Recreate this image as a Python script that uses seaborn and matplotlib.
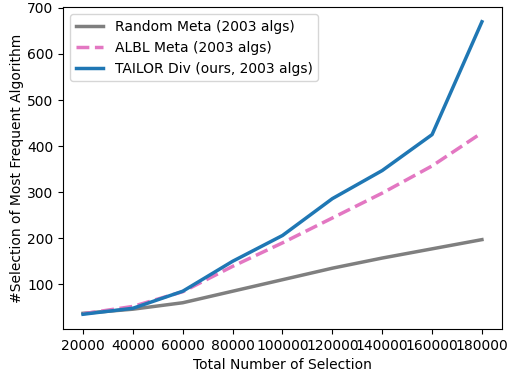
import matplotlib
matplotlib.use("Agg")
import matplotlib.pyplot as plt
import seaborn as sns
import pandas as pd

x_vals = [20000, 40000, 60000, 80000, 100000, 120000, 140000, 160000, 180000]
random_meta = [37, 46, 60, 85, 110, 135, 157, 177, 197]
albl_meta = [36, 52, 84, 139, 190, 244, 298, 357, 429]
tailor_div = [35, 48, 85, 150, 206, 286, 347, 425, 670]

labels = ["Random Meta (2003 algs)", "ALBL Meta (2003 algs)", "TAILOR Div (ours, 2003 algs)"]
colors = ["#7f7f7f", "#e377c2", "#1f77b4"]
styles = ["-", "--", "-"]

plt.rcParams['font.family'] = ['DejaVu Sans']

fig = plt.figure(figsize=(5.09, 3.75), dpi=100)
ax = fig.add_axes([0.124, 0.123, 0.862, 0.858])

for series, lab, col, ls in zip([random_meta, albl_meta, tailor_div], labels, colors, styles):
    df = pd.DataFrame({"x": x_vals, "y": series})
    sns.lineplot(data=df, x="x", y="y", ax=ax, color=col, linestyle=ls, linewidth=2.5, label=lab)

ax.set_xticks(x_vals)
ax.set_xticklabels([str(v) for v in x_vals])
ax.set_xlabel("Total Number of Selection")
ax.set_ylabel("#Selection of Most Frequent Algorithm", labelpad=2)
ax.legend(loc="upper left", frameon=True)

fig.savefig("out.png", dpi=100)
